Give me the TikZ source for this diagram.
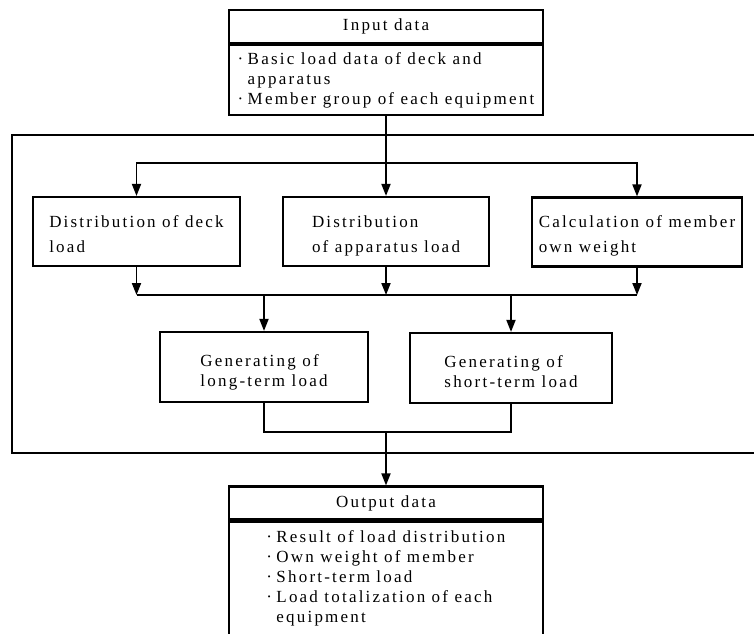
\documentclass[tikz,border=0pt]{standalone}
\usepackage{fontspec}
\setmainfont{Liberation Serif}[LetterSpace=13]
\usetikzlibrary{arrows.meta}
\tikzstyle{block} = [rectangle, draw=black, line width=2.2pt, minimum height=69pt, align=left, text height=45pt, text depth=4pt, font=\fontsize{17}{25}\selectfont]
\tikzstyle{result} = [block, minimum height=70pt, text height=42pt, text depth=4pt, font=\fontsize{17}{20}\selectfont]
\tikzstyle{datahead} = [rectangle, draw=black, line width=2.2pt, minimum width=314pt, minimum height=33pt, font=\fontsize{17}{20}\selectfont]
\tikzstyle{databody} = [datahead, align=left, minimum height=70pt]
\tikzstyle{arrow} = [line width=1.8pt, -{Triangle[length=12pt,width=9pt]}]
\tikzstyle{link} = [line width=1.8pt]

\begin{document}
\begin{tikzpicture}[x=1pt, y=-1pt]
    \clip (0,0) rectangle (754,633);

    % input data
    \node (inhead) [datahead] at (386,26.5) {Input data};
    \node (inbody) [databody, anchor=north] at (inhead.south) {\makebox[10pt][l]{·}Basic load data of deck and\\\hspace*{10pt}apparatus\\\makebox[10pt][l]{·}Member group of each equipment};

    % frame of the load part
    \draw [link] (12,135) rectangle (770,453);

    \node (deck) [block, minimum width=207pt] at (136.5,231.5) {Distribution of deck\\load};
    \node (appar) [block, minimum width=206pt] at (386,231.5) {Distribution\\of apparatus load};
    \node (weight) [block, minimum width=210pt] at (637,232) {Calculation of member\\own weight};
    \node (longt) [result, minimum width=208pt] at (264,367) {Generating of\\long-term load};
    \node (shortt) [result, minimum width=202pt] at (511,368) {Generating of\\short-term load};

    % output data
    \node (outhead) [datahead] at (386,503) {Output data};
    \node (outbody) [datahead, anchor=north, minimum height=130pt] at (outhead.south) {};
    \node (outtext) [anchor=north west, align=left, font=\fontsize{17}{20}\selectfont] at ([xshift=35pt, yshift=-6pt]outhead.south west) {\makebox[10pt][l]{·}Result of load distribution\\\makebox[10pt][l]{·}Own weight of member\\\makebox[10pt][l]{·}Short-term load\\\makebox[10pt][l]{·}Load totalization of each\\\hspace*{10pt}equipment};

    \coordinate (split) at (386,163);
    \coordinate (gather) at (386,295);
    \coordinate (merge) at (386,432);

    \draw [link] (inbody.south) -- (split);
    \draw [arrow] (split) -| (deck.north);
    \draw [arrow] (split) -- (appar.north);
    \draw [arrow] (split) -| (weight.north);
    \draw [arrow] (deck.south) -- (deck.south |- gather);
    \draw [arrow] (appar.south) -- (appar.south |- gather);
    \draw [arrow] (weight.south) -- (weight.south |- gather);
    \draw [link] (deck.south |- gather) -- (weight.south |- gather);
    \draw [arrow] (longt.north |- gather) -- (longt.north);
    \draw [arrow] (shortt.north |- gather) -- (shortt.north);
    \draw [link] (longt.south) |- (merge) -| (shortt.south);
    \draw [arrow] (merge) -- (outhead.north);

\end{tikzpicture}
\end{document}
